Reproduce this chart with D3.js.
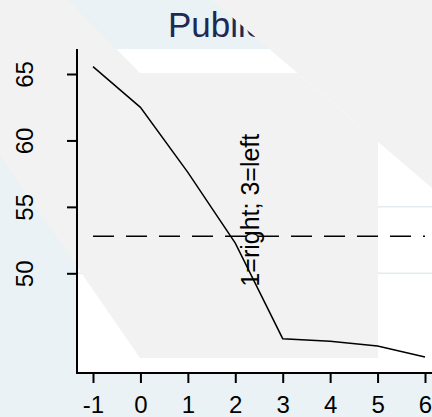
<!DOCTYPE html>
<html>
<head>
<meta charset="utf-8">
<script src="https://cdn.jsdelivr.net/npm/d3@7"></script>
<style>
  html, body { margin: 0; padding: 0; background: #eaf2f5; }
  svg { display: block; font-family: "Liberation Sans", Arial, sans-serif; }
</style>
</head>
<body>
<svg class="chart" width="432" height="417"></svg>
<script>
var xValues = [-1, 0, 1, 2, 3, 4, 5, 6];
var yValues = [65.55, 62.49, 57.6, 52.27, 45.08, 44.88, 44.53, 43.7];
var refValue = 52.79;
var xTicks = [-1, 0, 1, 2, 3, 4, 5, 6];
var yTicks = [50, 55, 60, 65];
var titleText = "Public";
var noteText = "1=right; 3=left";

document.addEventListener('DOMContentLoaded', function () {
  "use strict";
  var svg = d3.select("svg.chart");

  var x = d3.scaleLinear().domain([-1, 6]).range([93, 425]);
  var y = d3.scaleLinear().domain([50, 65]).range([273.3, 74]);

  var plotLeft = 77, plotTop = 49, plotBottom = 373, plotRight = 432;
  var plain = function (d) { return String(d); };

  // backdrop
  svg.append("rect")
      .attr("width", 432).attr("height", 417)
      .attr("fill", "#eaf2f5");
  svg.append("rect")
      .attr("x", plotLeft).attr("y", plotTop)
      .attr("width", plotRight - plotLeft).attr("height", plotBottom - plotTop)
      .attr("fill", "#ffffff");

  // grid lines
  svg.append("g")
    .selectAll("line")
      .data(yTicks)
    .enter().append("line")
      .attr("x1", plotLeft).attr("x2", plotRight)
      .attr("y1", function (d) { return y(d); })
      .attr("y2", function (d) { return y(d); })
      .attr("stroke", "#e2ebf1")
      .attr("stroke-width", 1.5);

  svg.append("text")
      .attr("x", 168).attr("y", 37)
      .attr("font-size", 35)
      .attr("fill", "#1c2b55")
      .text(titleText);

  // grey panels laid over the title and the plot
  var panels = [
    [[212, 0], [432, 0], [432, 188]],
    [[0, 0], [68, 0], [140, 73], [297, 73], [378, 142], [378, 358], [140, 358], [0, 155]]
  ];
  svg.append("g")
    .selectAll("path")
      .data(panels)
    .enter().append("path")
      .attr("d", function (d) { return "M" + d.join("L") + "Z"; })
      .attr("fill", "#f2f2f2");

  // axes
  var yAxis = svg.append("g")
      .attr("transform", "translate(" + plotLeft + ",0)")
      .call(d3.axisLeft(y).tickValues(yTicks).tickFormat(plain).tickSize(10).tickSizeOuter(0));
  yAxis.select(".domain").remove();
  yAxis.append("line")
      .attr("y1", plotTop).attr("y2", plotBottom + 1)
      .attr("stroke", "#000").attr("stroke-width", 2);
  yAxis.selectAll(".tick line").attr("stroke-width", 2);
  yAxis.selectAll(".tick text")
      .attr("x", null).attr("dy", null)
      .attr("font-size", 24).attr("fill", "#000")
      .attr("text-anchor", "middle")
      .attr("transform", "translate(-44,0) rotate(-90)");

  var xAxis = svg.append("g")
      .attr("transform", "translate(0," + plotBottom + ")")
      .call(d3.axisBottom(x).tickValues(xTicks).tickFormat(plain).tickSize(10).tickSizeOuter(0));
  xAxis.select(".domain").remove();
  xAxis.append("line")
      .attr("x1", plotLeft - 1).attr("x2", plotRight)
      .attr("stroke", "#000").attr("stroke-width", 2);
  xAxis.selectAll(".tick line").attr("stroke-width", 2);
  xAxis.selectAll(".tick text")
      .attr("y", 40).attr("dy", null)
      .attr("font-size", 24).attr("fill", "#000");

  // reference line
  svg.append("line")
      .attr("x1", x(-1)).attr("x2", x(6))
      .attr("y1", y(refValue)).attr("y2", y(refValue))
      .attr("stroke", "#000")
      .attr("stroke-width", 1.5)
      .attr("stroke-dasharray", "21,12");

  var line = d3.line()
      .x(function (d) { return x(d[0]); })
      .y(function (d) { return y(d[1]); });
  svg.append("path")
      .datum(xValues.map(function (v, i) { return [v, yValues[i]]; }))
      .attr("d", line)
      .attr("fill", "none")
      .attr("stroke", "#000")
      .attr("stroke-width", 1.5);

  svg.append("text")
      .attr("transform", "translate(" + x(2.5) + "," + y(54.75) + ") rotate(-90)")
      .attr("text-anchor", "middle")
      .attr("font-size", 25)
      .attr("fill", "#000")
      .text(noteText);
}, false);
</script>
</body>
</html>
